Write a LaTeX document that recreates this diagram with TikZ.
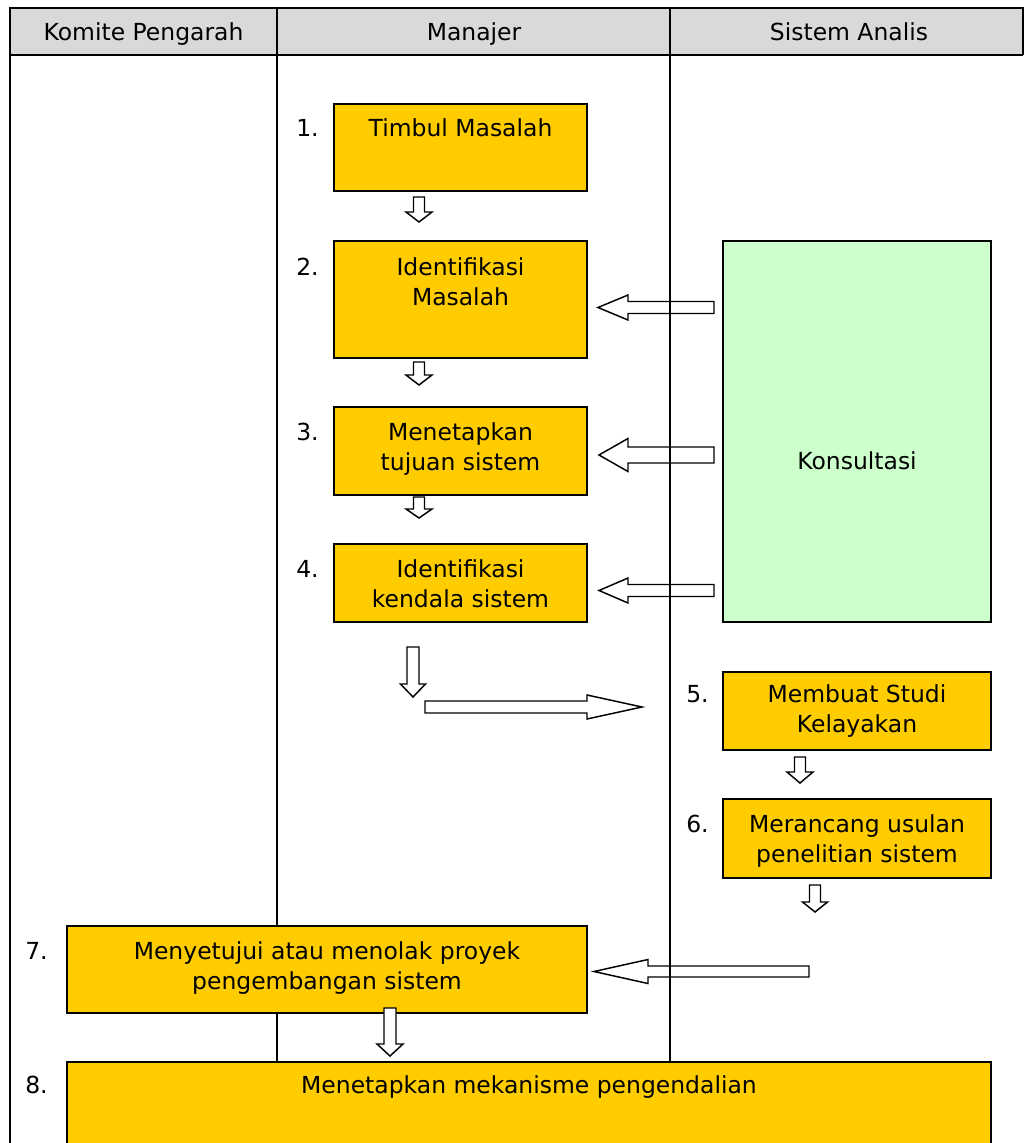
\documentclass[tikz,border=0pt]{standalone}
\usepackage{fontspec}
\setmainfont{DejaVu Sans}
\usetikzlibrary{fit}
\definecolor{boxyellow}{HTML}{FFCC00}
\definecolor{boxgreen}{HTML}{CCFFCC}
\definecolor{headgray}{HTML}{D9D9D9}

% rectangle node from two corners: name, x1, y1, x2, y2, style
\newcommand\cornerbox[6]{%
  \path (#2,#3) coordinate (#1-nw) (#4,#5) coordinate (#1-se);
  \node[#6, fit=(#1-nw)(#1-se)] (#1) {};}
% text placed by the baseline of its first line: name, x, baseline, text
\newcommand\lbl[4]{\node[txt] (#1) at (#2,#3-21) {#4};}
\newcommand\numlbl[4]{\node[num] (#1) at (#2,#3-21) {\strut #4};}
% block arrow pointing down: centre x, top, head base, tip, half shaft, half head
\newcommand\dnarrow[6]{%
  \draw[blk] (#1-#5,#2) -- (#1+#5,#2) -- (#1+#5,#3) -- (#1+#6,#3) -- (#1,#4)
    -- (#1-#6,#3) -- (#1-#5,#3) -- cycle;}
% block arrow lying flat: tail x, head base x, tip x, centre y, half shaft, half head
\newcommand\flatarrow[6]{%
  \draw[blk] (#1,#4-#5) -- (#2,#4-#5) -- (#2,#4-#6) -- (#3,#4) -- (#2,#4+#6)
    -- (#2,#4+#5) -- (#1,#4+#5) -- cycle;}

\begin{document}
\begin{tikzpicture}[x=0.75pt,y=-0.75pt,
  rule/.style={line width=1.5pt},
  ybox/.style={draw, line width=1.6pt, fill=boxyellow, inner sep=0pt},
  gbox/.style={draw, line width=1.6pt, fill=boxgreen, inner sep=0pt},
  txt/.style={inner sep=0pt, align=center, anchor=north,
    font=\fontsize{17.6}{22.5}\selectfont},
  num/.style={inner sep=0pt, anchor=north west,
    font=\fontsize{17.6}{22.5}\selectfont},
  blk/.style={draw, line width=1.1pt, fill=white, line join=miter}]

\useasboundingbox (0,0) rectangle (1025,1143);
\clip (0,0) rectangle (1025,1143);
\fill[white] (0,0) rectangle (1025,1143);

% header row
\fill[headgray] (10,8) rectangle (1023,55);
\draw[rule] (10,1150) -- (10,8) -- (1023,8) -- (1023,55);
\draw[rule] (10,55) -- (1023,55);
\lbl{h1}{143.5}{40}{\strut Komite Pengarah}
\lbl{h2}{474}{40}{\strut Manajer}
\lbl{h3}{849}{40}{\strut Sistem Analis}

% arrows from the consultation box and into step 7 (lane rules run over them)
\flatarrow{714}{628}{598}{307.5}{6}{12.5}
\flatarrow{714}{628}{599}{455}{8}{16.5}
\flatarrow{714}{628}{599}{590.5}{6}{12.5}
\flatarrow{809}{648}{594}{971.5}{5.5}{12}

% lane rules
\draw[rule] (277,8) -- (277,1062);
\draw[rule] (670,8) -- (670,1062);

% step boxes
\cornerbox{b1}{334}{104}{587}{191}{ybox}
\cornerbox{b2}{334}{241}{587}{358}{ybox}
\cornerbox{b3}{334}{407}{587}{495}{ybox}
\cornerbox{b4}{334}{544}{587}{622}{ybox}
\cornerbox{bk}{723}{241}{991}{622}{gbox}
\cornerbox{b5}{723}{672}{991}{750}{ybox}
\cornerbox{b6}{723}{799}{991}{878}{ybox}
\cornerbox{b7}{67}{926}{587}{1013}{ybox}
\cornerbox{b8}{67}{1062}{991}{1170}{ybox}

% box texts
\lbl{t1}{460.5}{136}{\strut Timbul Masalah}
\lbl{t2}{460.5}{275}{\strut Identifikasi\\\strut Masalah}
\lbl{t3}{460.5}{440}{\strut Menetapkan\\\strut tujuan sistem}
\lbl{t4}{460.5}{577}{\strut Identifikasi\\\strut kendala sistem}
\lbl{tk}{857}{469}{\strut Konsultasi}
\lbl{t5}{857}{702}{\strut Membuat Studi\\\strut Kelayakan}
\lbl{t6}{857}{832}{\strut Merancang usulan\\\strut penelitian sistem}
\lbl{t7}{327}{959}{\strut Menyetujui atau menolak proyek\\\strut pengembangan sistem}
\lbl{t8}{529}{1093}{\strut Menetapkan mekanisme pengendalian}

% step numbers
\numlbl{n1}{296}{136}{1.}
\numlbl{n2}{296}{275}{2.}
\numlbl{n3}{296}{440}{3.}
\numlbl{n4}{296}{577}{4.}
\numlbl{n5}{686}{702}{5.}
\numlbl{n6}{686}{832}{6.}
\numlbl{n7}{25}{959}{7.}
\numlbl{n8}{25}{1093}{8.}

% flow arrows between steps
\dnarrow{419}{197}{212}{222}{5.5}{13}
\dnarrow{419}{362}{375}{385}{5.5}{13}
\dnarrow{419}{497}{509}{518}{5.5}{13}
\dnarrow{413}{647}{684}{697}{6}{12.5}
\flatarrow{425}{587}{642}{707}{6}{12}
\dnarrow{800}{757}{772}{783}{5.5}{13}
\dnarrow{815}{885}{902}{912}{5.5}{12.5}
\dnarrow{390}{1008}{1044}{1056}{6}{13}
\end{tikzpicture}
\end{document}
